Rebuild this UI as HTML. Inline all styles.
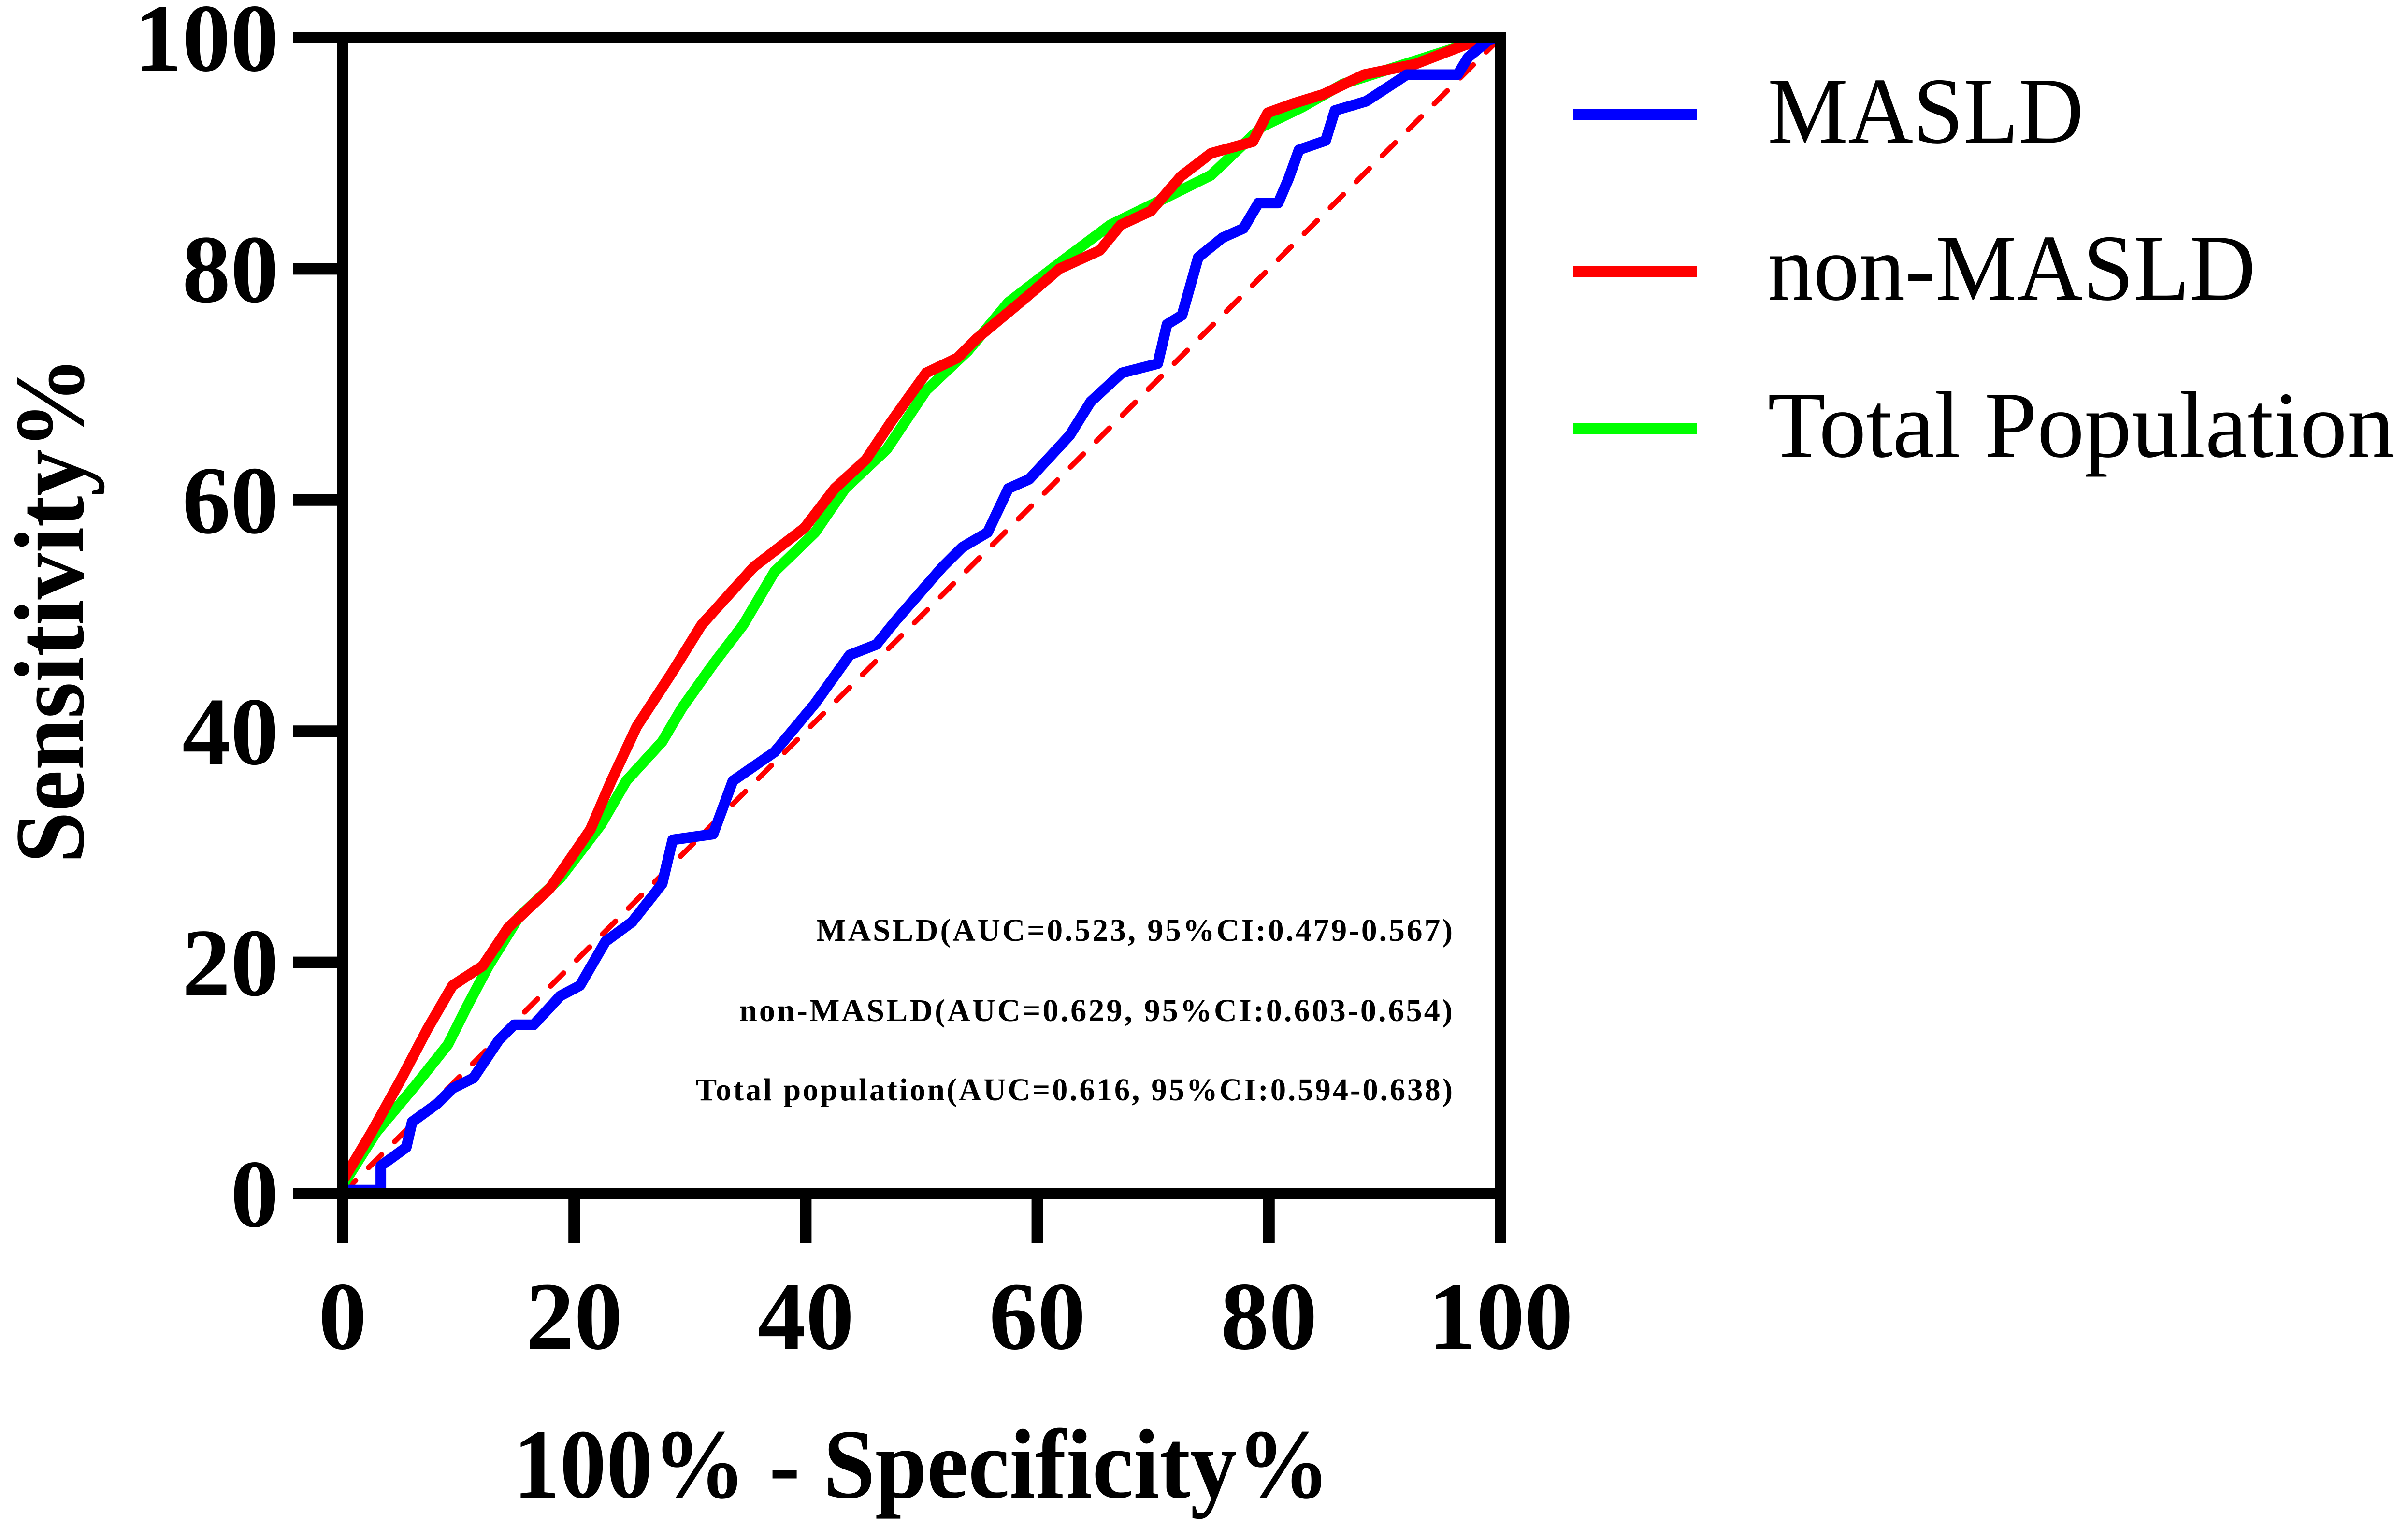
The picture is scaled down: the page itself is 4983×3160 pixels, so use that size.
<!DOCTYPE html>
<html><head><meta charset="utf-8"><style>
html,body{margin:0;padding:0;background:#fff}
svg{display:block}
text{font-family:"Liberation Serif",serif}
</style></head><body>
<svg id="chart" width="4983" height="3160" viewBox="0 0 4983 3160" xmlns="http://www.w3.org/2000/svg">
<g id="plot"></g>
</svg>
<script>
const xTicks=[0,20,40,60,80,100];
const yTicks=[0,20,40,60,80,100];
const maslX=[0,3.3,3.3,5.5,6,8.2,9.5,11.3,13.5,14.8,16.5,18.8,20.5,22.7,25,27.6,28.5,32,33.7,37.3,40.8,43.8,46.1,47.8,51.8,53.5,55.7,57.5,59.3,62.8,64.6,67.3,70.4,71.2,72.5,73.9,76,77.8,79.1,80.8,81.7,82.6,84.9,85.7,88.4,91,91.9,96.3,97.2,99,100];
const maslY=[0.3,0.3,2.4,4,6.2,7.8,9.1,10,13.3,14.6,14.6,17.1,18,21.8,23.5,26.8,30.6,31.1,35.7,38.2,42.4,46.6,47.5,49.6,54.2,55.9,57.2,61,61.8,65.6,68.5,71,71.8,75.2,76,81,82.7,83.5,85.7,85.7,87.8,90.3,91.1,93.7,94.5,96.2,96.8,96.8,98.3,99.8,100];
const nonX=[0,2.5,5.1,7.3,9.5,12.1,14.3,17.9,21.4,23.2,25.4,28.4,31,35.5,39.9,42.5,45.2,47.4,50.4,53.1,54.8,58.4,61.9,65.4,67.2,69.8,72.4,75,78.6,79.9,82.1,84.7,88.2,92.6,97,100];
const nonY=[1.1,5.3,10,14.2,18,19.7,23,26.4,31.5,35.7,40.4,45,49.2,54.2,57.6,61,63.5,66.8,71,72.3,74,77,80,81.6,83.8,85,88,90,91,93.5,94.3,95.1,96.8,97.7,99.4,100];
const totX=[0,2.9,6.4,9.1,10.8,12.6,15.2,18.8,22.3,24.5,27.6,29.3,32,34.6,37.3,40.8,43.4,47,50.4,54,57.5,61.9,66.3,71.6,75,79.4,82.9,86.4,91.7,97,100];
const totY=[0.7,5.3,9.5,12.9,16.3,19.7,23.9,27.3,31.9,35.7,39.1,42,45.8,49.2,53.8,57.2,61,64.4,69.5,72.9,77.1,80.5,83.8,86.4,88.1,92.3,94,96,97.7,99.4,100];
const seriesNames=["MASLD","non-MASLD","Total Population"];
const aucLabels=["MASLD(AUC=0.523, 95%CI:0.479-0.567)","non-MASLD(AUC=0.629, 95%CI:0.603-0.654)","Total population(AUC=0.616, 95%CI:0.594-0.638)"];

const NS="http://www.w3.org/2000/svg";
const X0=709,X1=3105,Y0=2470,Y1=78;
const sx=v=>X0+(X1-X0)*v/100;
const sy=v=>Y0-(Y0-Y1)*v/100;
const g=document.getElementById('plot');
function mk(tag,attrs,parent){const e=document.createElementNS(NS,tag);for(const k in attrs)e.setAttribute(k,attrs[k]);(parent||g).appendChild(e);return e;}

let d=mk('line',{x1:sx(0),y1:sy(0),x2:sx(100),y2:sy(100),stroke:'#ff0000','stroke-width':11,'stroke-dasharray':'38 38','stroke-linecap':'round'});



function curve(xs,ys,color,name){
  let p='';xs.forEach((x,i)=>{p+=(i?'L':'M')+sx(x).toFixed(1)+','+sy(ys[i]).toFixed(1);});
  const e=mk('path',{d:p,fill:'none',stroke:color,'stroke-width':22,'stroke-linejoin':'round'});
  
  
}
curve(totX,totY,'#00ff00','total-population-curve');
curve(nonX,nonY,'#ff0000','non-masld-curve');
curve(maslX,maslY,'#0000ff','masld-curve');

let fr=mk('rect',{x:X0,y:Y1,width:X1-X0,height:Y0-Y1,fill:'none',stroke:'#000','stroke-width':24});



xTicks.forEach(v=>{
  const t=mk('line',{x1:sx(v),x2:sx(v),y1:Y0,y2:2572,stroke:'#000','stroke-width':24});
  
  
  const l=mk('text',{x:sx(v),y:2791,'text-anchor':'middle','font-size':200,'font-weight':'bold'});
  l.textContent=v;
  
  
});
yTicks.forEach(v=>{
  const t=mk('line',{x1:607,x2:X0,y1:sy(v),y2:sy(v),stroke:'#000','stroke-width':24});
  
  
  const l=mk('text',{x:577,y:sy(v)+68,'text-anchor':'end','font-size':200,'font-weight':'bold'});
  l.textContent=v;
  
  
});

let xt=mk('text',{x:1907,y:3099,'text-anchor':'middle','font-size':205,'font-weight':'bold',textLength:1690,lengthAdjust:'spacingAndGlyphs'});
xt.textContent='100% - Specificity%';


let yt=mk('text',{x:0,y:0,'text-anchor':'middle','font-size':205,'font-weight':'bold',textLength:1049,lengthAdjust:'spacingAndGlyphs',transform:'translate(172,1262) rotate(-90)'});
yt.textContent='Sensitivity%';



const aucBase=[1947,2113,2277];
const aucW=[1321,1480,1570];
aucLabels.forEach((s,i)=>{
  const t=mk('text',{x:3010,y:aucBase[i],'text-anchor':'end','font-size':66,'font-weight':'bold',textLength:aucW[i],lengthAdjust:'spacingAndGlyphs','letter-spacing':4});
  t.textContent=s;
  
  
});

const legColors=['#0000ff','#ff0000','#00ff00'];
const legY=[237,562,887];
const legW=[654,1010,1297];
seriesNames.forEach((s,i)=>{
  const lg=mk('g',{});
  
  
  mk('rect',{x:3256,y:legY[i]-12,width:255,height:24,fill:legColors[i]},lg);
  const t=mk('text',{x:3658,y:legY[i]+58,'font-size':195,textLength:legW[i],lengthAdjust:'spacingAndGlyphs'},lg);
  t.textContent=s;
});
</script>
</body></html>
